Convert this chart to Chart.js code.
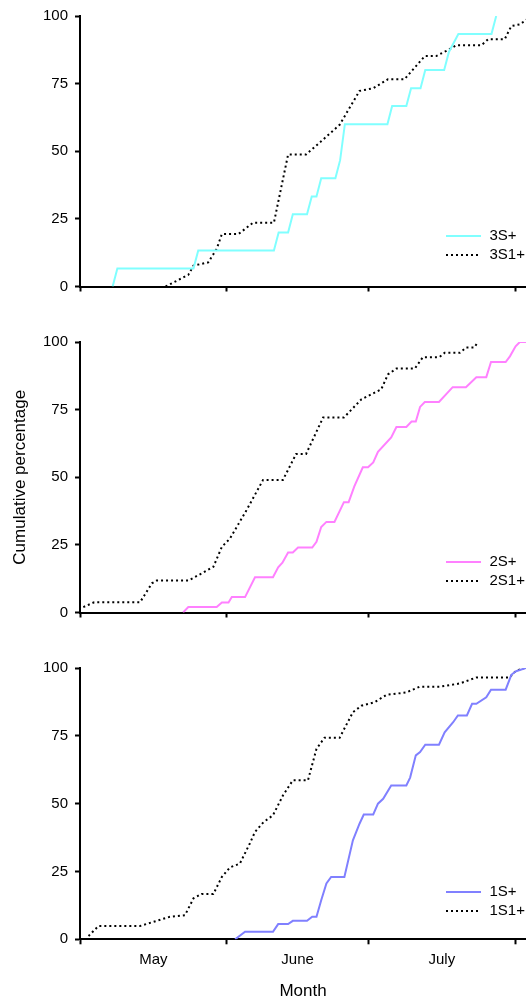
<!DOCTYPE html>
<html>
<head>
<meta charset="utf-8">
<script src="https://cdn.jsdelivr.net/npm/chart.js@4"></script>
<style>
  body { margin: 0; background: #fff; }
  #wrap { position: relative; width: 526px; height: 1000px; }
  canvas { position: absolute; left: 0; display: block; }
</style>
</head>
<body>
<div id="wrap">
  <canvas id="c3" width="526" height="326" style="top:0px"></canvas>
  <canvas id="c2" width="526" height="326" style="top:326px"></canvas>
  <canvas id="c1" width="526" height="348" style="top:652px"></canvas>
</div>
<script>
// day 0 = 1 May
var monthNames = ['May', 'June', 'July'];
var monthStarts = [0, 31, 61, 92];
var monthMids = [15.5, 46, 76.5];
var yTicks = [0, 25, 50, 75, 100];

// panel 1
var days3S = [6.9, 7.9, 24, 25, 41, 42, 44, 45, 48, 49, 50, 51, 54, 55, 56, 65, 66, 69, 70, 72, 73, 77, 78, 80, 87, 88];
var pct3S = [0, 6.7, 6.7, 13.3, 13.3, 20, 20, 26.7, 26.7, 33.3, 33.3, 40, 40, 46.7, 60, 60, 66.7, 66.7, 73.3, 73.3, 80, 80, 86.7, 93.3, 93.3, 100];
var days3S1 = [18.1, 22.9, 24, 27.1, 28.9, 30, 33.5, 36.6, 41, 44, 47.8, 51, 54.9, 59.1, 62, 65.1, 68.6, 72.9, 75.3, 77.8, 79.6, 84.9, 86.3, 89.8, 91.2, 93, 95.5];
var pct3S1 = [0, 4.3, 7.7, 8.9, 13.9, 19.4, 19.4, 23.6, 23.6, 48.8, 48.8, 53.7, 59.8, 72.3, 73.3, 76.6, 76.6, 85.2, 85.2, 87.4, 89.2, 89.2, 91.4, 91.4, 96.3, 96.9, 100];

// panel 2
var days2S = [21.8, 22.9, 28.9, 30, 31.4, 32.1, 34.9, 37, 40.8, 41.9, 42.8, 44, 45, 46.1, 49.1, 50, 51, 52.1, 53.8, 55.8, 56.8, 58, 59.8, 60.9, 62, 63, 65.8, 66.9, 69, 70.1, 71, 71.9, 72.9, 75.9, 78.8, 81.6, 83.8, 85.9, 86.9, 90, 90.9, 92.1, 93, 95];
var pct2S = [0, 2, 2, 3.7, 3.7, 5.7, 5.7, 13, 13, 16.7, 18.4, 22.2, 22.2, 24, 24, 26.1, 31.6, 33.5, 33.5, 40.8, 40.8, 46.6, 53.7, 53.7, 55.5, 59.4, 64.7, 68.6, 68.6, 70.6, 70.6, 76, 77.8, 77.8, 83.3, 83.3, 87, 87, 92.6, 92.6, 94.7, 98.4, 100, 100];
var days2S1 = [0.7, 3, 12.7, 15.2, 16.2, 22.9, 26, 28.2, 30, 31.7, 35.2, 38.7, 42.9, 45.7, 47.8, 51.4, 55.8, 59.5, 63.7, 65.1, 66.9, 70.8, 72.5, 76, 77.1, 80.3, 81.7, 83.4, 84.1];
var pct2S1 = [2, 3.8, 3.8, 10.8, 11.8, 11.8, 14.7, 16.9, 24.3, 27.3, 37.8, 49, 49, 58.6, 58.6, 72.1, 72.1, 78.8, 82.5, 88, 90.2, 90.2, 94.4, 94.4, 96, 96, 98, 98, 100];

// panel 3
var days1S = [32.8, 34.9, 40.8, 41.9, 44, 45, 48, 49.1, 50, 51, 52.1, 53.1, 55.9, 57.7, 59.1, 60, 62, 63, 64.1, 65.8, 69, 69.8, 71, 71.9, 73, 75.9, 77.1, 78.9, 79.9, 81.8, 82.9, 83.8, 85.9, 86.9, 90, 91.2, 92.2, 94.3];
var pct1S = [0, 2.8, 2.8, 5.6, 5.6, 6.8, 6.8, 8.3, 8.3, 14.4, 20.6, 23, 23, 36.5, 42.6, 46, 46, 50, 51.8, 56.7, 56.7, 59.6, 67.8, 69, 71.7, 71.7, 76.3, 80, 82.5, 82.5, 86.8, 86.8, 89.2, 92, 92, 97.5, 98.8, 100];
var days1S1 = [1.8, 3.9, 12.7, 16.2, 19, 22.2, 24, 25.7, 28.2, 30, 31.7, 33.8, 35.9, 37, 38.8, 40.8, 42.9, 45, 48.2, 50, 51.7, 54.9, 57.7, 59.5, 62.3, 64.8, 69, 71.8, 76, 80.3, 83.8, 90.8, 92.2, 94];
var pct1S1 = [1.2, 4.9, 4.9, 6.8, 8.3, 8.9, 15.1, 16.7, 16.7, 23, 26.5, 27.9, 35.3, 39.6, 43.2, 45.7, 53, 58.6, 58.6, 70.2, 74.3, 74.3, 83.7, 86.1, 87.4, 90.1, 91, 93.1, 93.1, 94.3, 96.5, 96.5, 99, 100];

var FONT = '"Liberation Sans", Arial, sans-serif';
var xTickValues = monthStarts.concat(monthMids).sort(function (a, b) { return a - b; });

function pts(days, pct) {
    return days.map(function (d, i) { return { x: d, y: pct[i] }; });
}

function solid(label, color, days, pct) {
    return { label: label, data: pts(days, pct), borderColor: color, borderWidth: 2, pointRadius: 0, tension: 0, fill: false };
}

function dotted(label, days, pct) {
    return { label: label, data: pts(days, pct), borderColor: '#000', borderWidth: 2, borderDash: [2, 3], borderCapStyle: 'butt', pointRadius: 0, tension: 0, fill: false };
}

// legend drawn inside the plot, bottom right
var insideLegend = {
    id: 'insideLegend',
    afterDraw: function (chart, args, opts) {
        var ctx = chart.ctx, area = chart.chartArea;
        chart.data.datasets.forEach(function (ds, i) {
            var y = Math.round(area.bottom - opts.rows[i]);
            ctx.save();
            ctx.strokeStyle = ds.borderColor;
            ctx.lineWidth = ds.borderWidth;
            ctx.setLineDash(ds.borderDash || []);
            ctx.beginPath();
            ctx.moveTo(area.right - 80, y);
            ctx.lineTo(area.right - 45, y);
            ctx.stroke();
            ctx.setLineDash([]);
            ctx.fillStyle = '#000';
            ctx.font = '15px ' + FONT;
            ctx.textBaseline = 'middle';
            ctx.fillText(ds.label, area.right - 36.5, y);
            ctx.restore();
        });
    }
};

function makeChart(id, datasets, o) {
    new Chart(document.getElementById(id), {
        type: 'line',
        data: { datasets: datasets },
        plugins: [insideLegend],
        options: {
            responsive: false,
            animation: false,
            layout: { padding: { top: 14.5, left: 0, right: 0, bottom: 0 } },
            plugins: {
                legend: { display: false },
                tooltip: { enabled: false },
                insideLegend: { rows: o.rows }
            },
            scales: {
                x: {
                    type: 'linear',
                    min: 0,
                    max: 94.3,
                    afterBuildTicks: function (s) { s.ticks = xTickValues.map(function (v) { return { value: v }; }); },
                    afterFit: function (s) { s.height = o.xHeight; },
                    grid: {
                        drawOnChartArea: false,
                        tickLength: 5,
                        tickWidth: 2,
                        tickColor: function (c) { return monthStarts.indexOf(c.tick.value) >= 0 ? '#000' : 'rgba(0,0,0,0)'; }
                    },
                    border: { display: true, color: '#000', width: 2 },
                    ticks: {
                        display: o.months,
                        autoSkip: false,
                        maxRotation: 0,
                        padding: 7,
                        color: '#000',
                        font: { family: FONT, size: 15 },
                        callback: function (v) {
                            var k = monthMids.indexOf(v);
                            return k >= 0 ? monthNames[k] : '';
                        }
                    },
                    title: {
                        display: !!o.xTitle,
                        text: o.xTitle || '',
                        color: '#000',
                        font: { family: FONT, size: 17 },
                        padding: { top: 0, bottom: -2 }
                    }
                },
                y: {
                    min: 0,
                    max: 100,
                    afterBuildTicks: function (s) { s.ticks = yTicks.map(function (v) { return { value: v }; }); },
                    afterFit: function (s) { s.width = 80; },
                    grid: { drawOnChartArea: false, tickLength: 5, tickWidth: 2, tickColor: '#000' },
                    border: { display: true, color: '#000', width: 2 },
                    ticks: { padding: 7, color: '#000', font: { family: FONT, size: 15 } },
                    title: {
                        display: !!o.yTitle,
                        text: o.yTitle || '',
                        color: '#000',
                        font: { family: FONT, size: 17 },
                        padding: { top: 10, bottom: 0 }
                    }
                }
            }
        }
    });
}

makeChart('c3', [solid('3S+', '#80FFFF', days3S, pct3S), dotted('3S1+', days3S1, pct3S1)],
    { rows: [51, 32], xHeight: 39.5, months: false });
makeChart('c2', [solid('2S+', '#FF80FF', days2S, pct2S), dotted('2S1+', days2S1, pct2S1)],
    { rows: [51, 32], xHeight: 39.5, months: false, yTitle: 'Cumulative percentage' });
makeChart('c1', [solid('1S+', '#8080FF', days1S, pct1S), dotted('1S1+', days1S1, pct1S1)],
    { rows: [47, 28], xHeight: 60.7, months: true, xTitle: 'Month' });
</script>
</body>
</html>
